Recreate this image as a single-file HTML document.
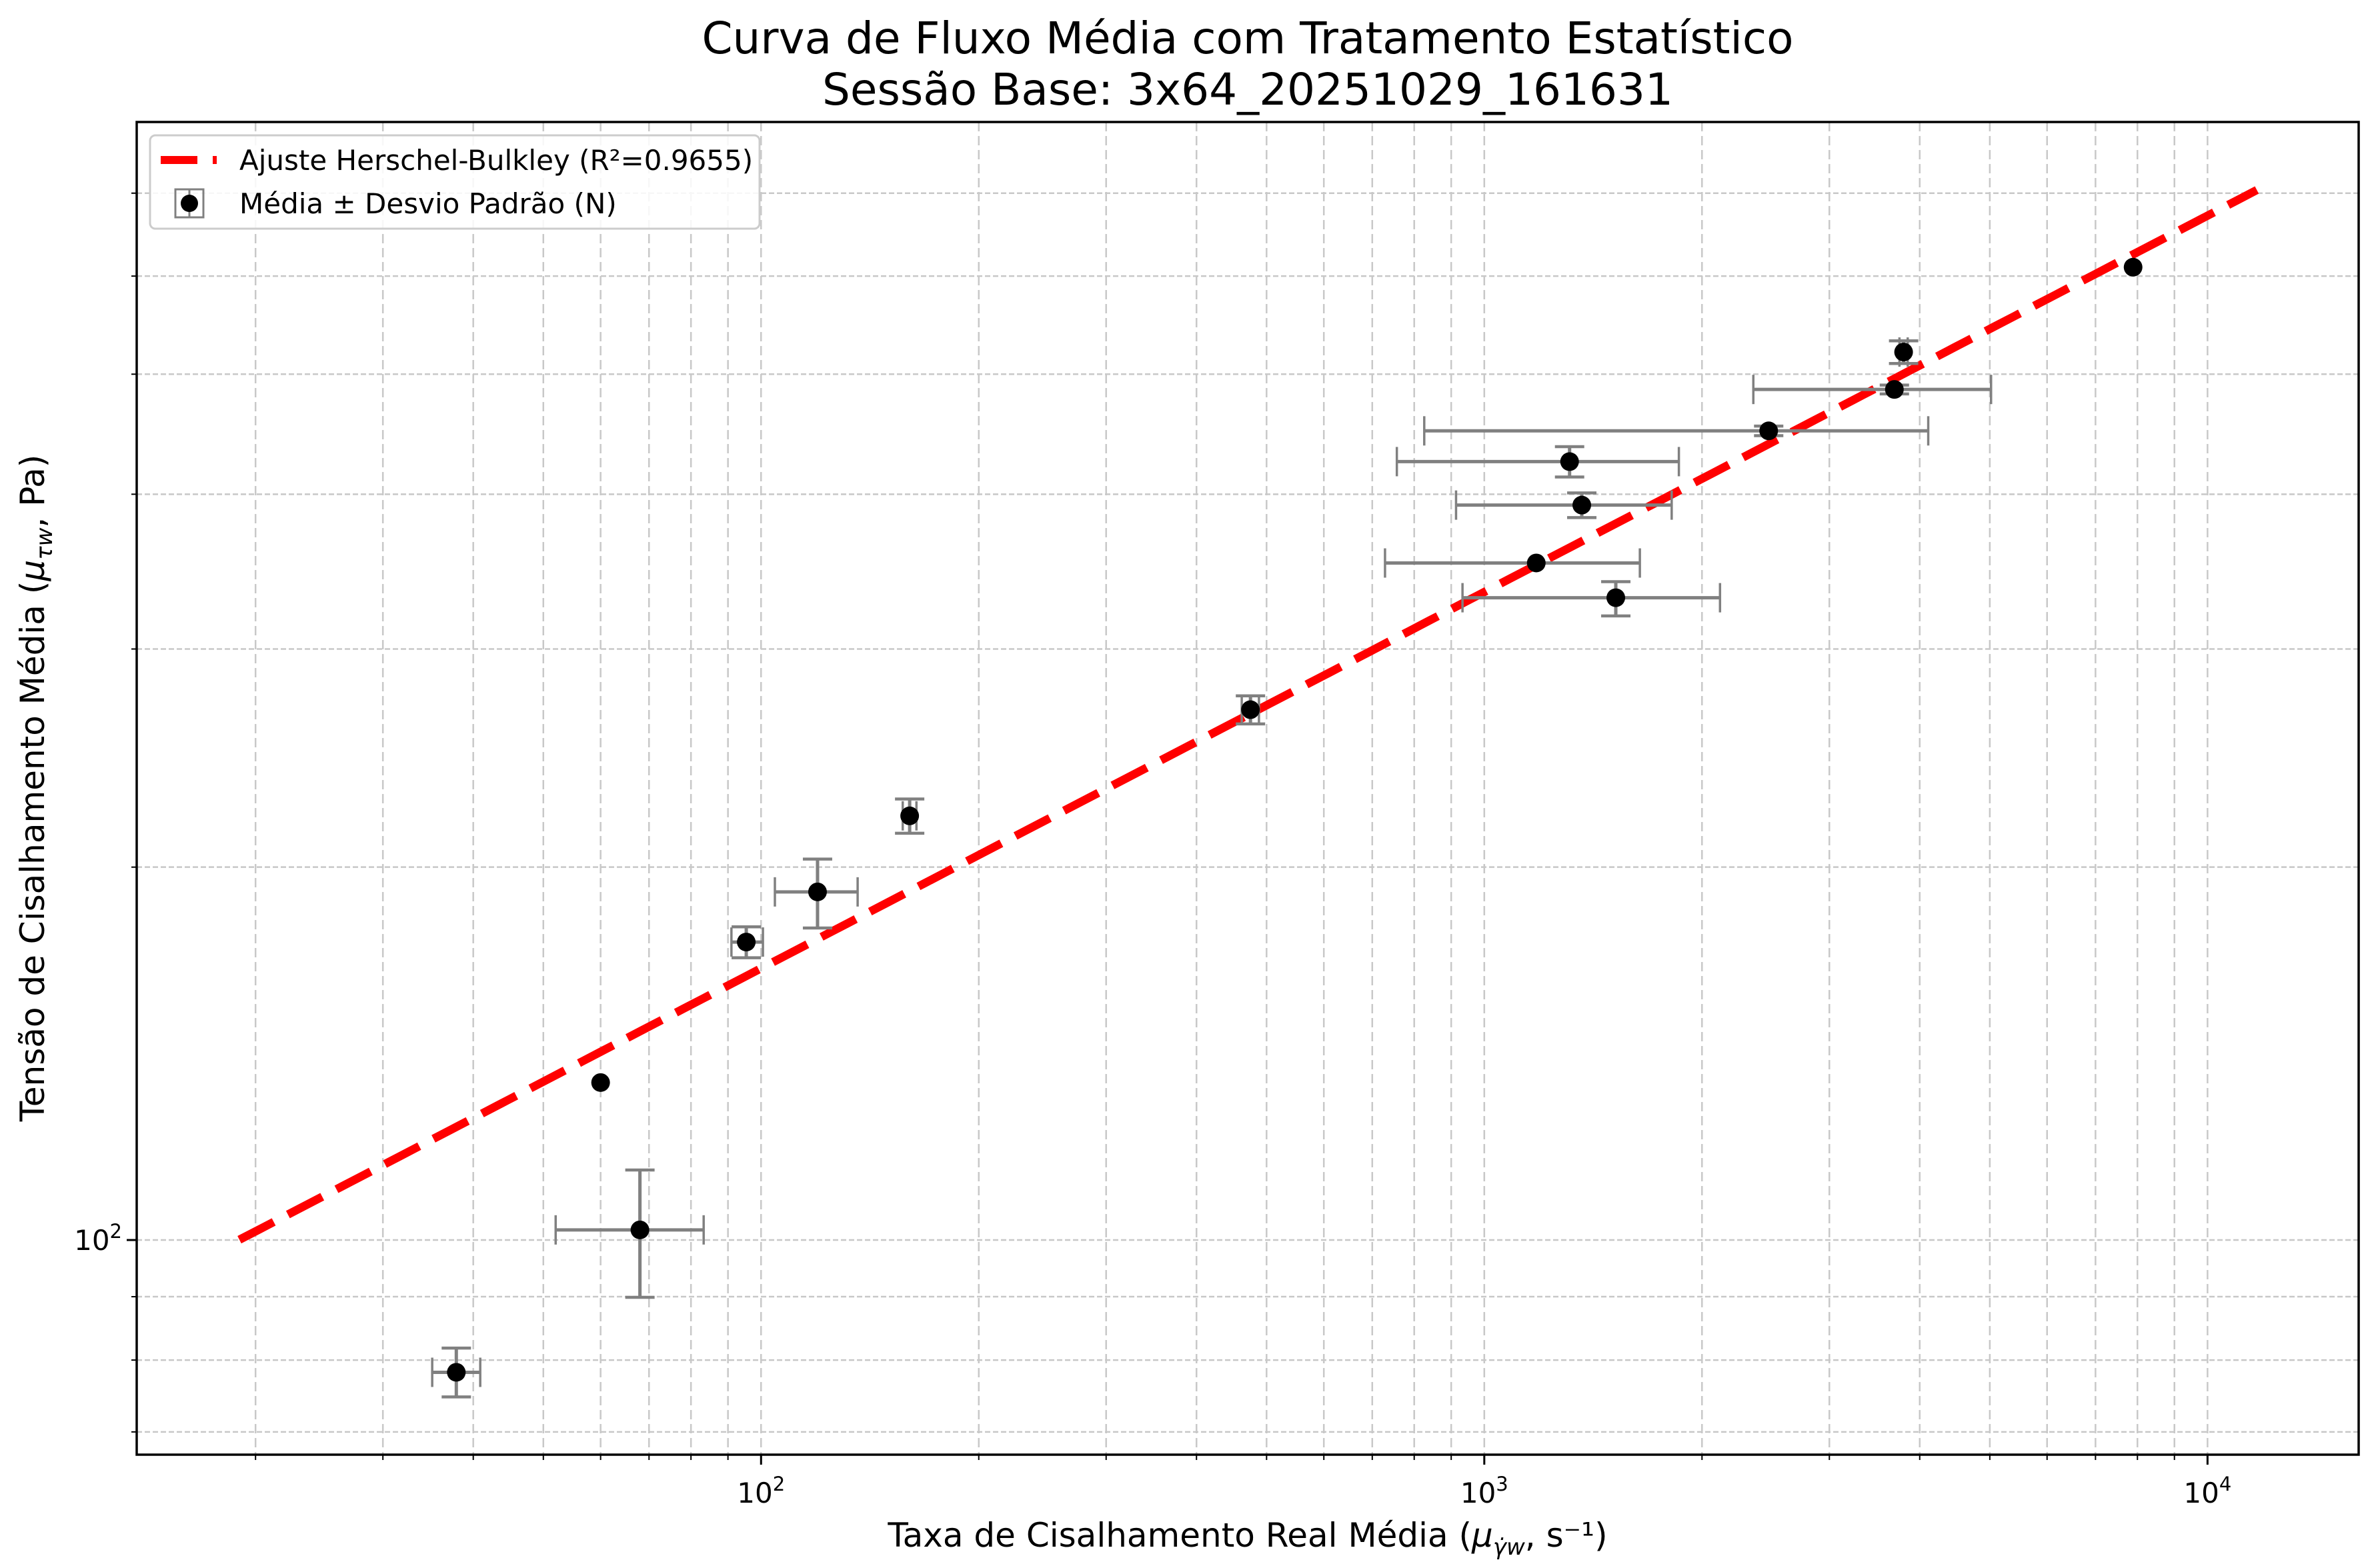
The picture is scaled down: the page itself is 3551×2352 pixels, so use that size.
<!DOCTYPE html>
<html><head><meta charset="utf-8"><style>
html,body{margin:0;padding:0;background:#fff;}
svg{display:block;font-family:"DejaVu Sans","Liberation Sans",sans-serif;}
</style></head><body>
<svg id="chart" width="3551" height="2352" viewBox="0 0 3551 2352" xmlns="http://www.w3.org/2000/svg">
<rect width="3551" height="2352" fill="#fff"/>
<g id="grid"></g>
<g id="fitg"></g>
<g id="errg"></g>
<g id="ptg"></g>
<rect x="205" y="183" width="3332" height="1999" fill="none" stroke="#000" stroke-width="3.5"/>
<g id="ticks"></g>
<text x="1871" y="80" text-anchor="middle" font-size="66">Curva de Fluxo Média com Tratamento Estatístico</text>
<text x="1871" y="157" text-anchor="middle" font-size="66">Sessão Base: 3x64_20251029_161631</text>
<text x="1871" y="2320" text-anchor="middle" font-size="50">Taxa de Cisalhamento Real Média (<tspan font-style="italic">μ</tspan><tspan font-size="34" dy="12" font-style="italic">γ̇w</tspan><tspan dy="-12">, s⁻¹)</tspan></text>
<text transform="translate(66,1182) rotate(-90)" text-anchor="middle" font-size="50">Tensão de Cisalhamento Média (<tspan font-style="italic">μ</tspan><tspan font-size="34" dy="12" font-style="italic">τw</tspan><tspan dy="-12">, Pa)</tspan></text>
<g>
<rect x="225" y="203" width="914" height="140" rx="8" fill="#fff" fill-opacity="0.85" stroke="#ccc" stroke-width="3"/>
<line x1="241" y1="240" x2="325" y2="240" stroke="#f00" stroke-width="12" stroke-dasharray="55,23"/>
<text x="359" y="255" font-size="42">Ajuste Herschel-Bulkley (R²=0.9655)</text>
<rect x="263" y="284" width="42" height="42" fill="none" stroke="#808080" stroke-width="3"/>
<line x1="284" y1="284" x2="284" y2="326" stroke="#808080" stroke-width="3"/>
<ellipse cx="284" cy="305" rx="13" ry="13" fill="#000"/>
<text x="359" y="320" font-size="42">Média ± Desvio Padrão (N)</text>
</g>
</svg>
<script>
const xMean=[37.9,68,60,95.4,119.7,160.5,475,1180,1520,1364,1312,2473,3690,3800,7890];
const yMean=[78.2,101.9,134,174,191,220,268,352,330,392,425,450,486,521,610];
const xLow=[35.1,52,60,91,104.5,157,462,729,933,914,757,826,2355,3750,7890];
const xHigh=[40.9,83.3,60,100.6,136,164,488,1641,2118,1816,1858,4110,5020,3850,7890];
const yLow=[74.7,89.9,134,169,178.6,213,261,352,319,383,413,446,482,510,610];
const yHigh=[81.8,113.9,134,179,203,227,275,352,340,401,437,454,490,532,610];
const fitK=[40.9];
const fitN=[0.3038];
const fitRange=[19,11700];
const xMajor=[100,1000,10000];
const xMajorLabels=["2","3","4"];
const yMajor=[100];
const yMajorLabels=["2"];

const NS="http://www.w3.org/2000/svg";
const L=205,R=3537,T=183,B=2182;
const xmin=Math.log10(13.7),xmax=Math.log10(16180);
const ymin=Math.log10(67.1),ymax=Math.log10(799);
function X(v){return L+(Math.log10(v)-xmin)/(xmax-xmin)*(R-L);}
function Y(v){return B-(Math.log10(v)-ymin)/(ymax-ymin)*(B-T);}
function mk(tag,attrs,parent){const e=document.createElementNS(NS,tag);for(const k in attrs)e.setAttribute(k,attrs[k]);parent.appendChild(e);return e;}
const grid=document.getElementById('grid'),ticks=document.getElementById('ticks');
const lo10=Math.pow(10,xmin),hi10=Math.pow(10,xmax);
for(let d=1;d<=4;d++){for(let m=1;m<10;m++){const v=m*Math.pow(10,d);if(v<lo10||v>hi10)continue;const x=X(v);
 const g=mk('line',{x1:x,x2:x,y1:T,y2:B,stroke:'#c8c8c8','stroke-width':2.5,'stroke-dasharray':'14,7'},grid);
 
 
 const t=mk('line',{x1:x,x2:x,y1:B,y2:B+(m==1?15:8),stroke:'#000','stroke-width':m==1?3:2},ticks);
 
 
}}
const ylo=Math.pow(10,ymin),yhi=Math.pow(10,ymax);
for(let d=1;d<=2;d++){for(let m=1;m<10;m++){const v=m*Math.pow(10,d);if(v<ylo||v>yhi)continue;const y=Y(v);
 const g=mk('line',{x1:L,x2:R,y1:y,y2:y,stroke:'#c8c8c8','stroke-width':2.5,'stroke-dasharray':'8,4'},grid);
 
 
 const t=mk('line',{x1:L,x2:L-(m==1?15:8),y1:y,y2:y,stroke:'#000','stroke-width':m==1?3:2},ticks);
 
 
}}
xMajor.forEach((v,i)=>{const t=mk('text',{x:X(v),y:B+72,'text-anchor':'middle','font-size':42},ticks);
 t.innerHTML='10<tspan dy="-18" font-size="29">'+xMajorLabels[i]+'</tspan>';
 
 });
yMajor.forEach((v,i)=>{const t=mk('text',{x:L-22,y:Y(v)+15,'text-anchor':'end','font-size':42},ticks);
 t.innerHTML='10<tspan dy="-18" font-size="29">'+yMajorLabels[i]+'</tspan>';
 
 });
const fitg=document.getElementById('fitg');let pts=[];
for(let i=0;i<=100;i++){const lx=Math.log10(fitRange[0])+i/100*(Math.log10(fitRange[1])-Math.log10(fitRange[0]));const xv=Math.pow(10,lx);const yv=fitK[0]*Math.pow(xv,fitN[0]);pts.push(X(xv).toFixed(1)+','+Y(yv).toFixed(1));}
const fl=mk('polyline',{points:pts.join(' '),fill:'none',stroke:'#f00','stroke-width':12.5,'stroke-dasharray':'58,24'},fitg);


const errg=document.getElementById('errg'),ptg=document.getElementById('ptg');
xMean.forEach((xv,i)=>{const cx=X(xv),cy=Y(yMean[i]);
 const s={stroke:'#808080','stroke-width':5};
 if(xHigh[i]>xLow[i]){
  const h=mk('line',Object.assign({x1:X(xLow[i]),x2:X(xHigh[i]),y1:cy,y2:cy},s),errg);
  
  
  [xLow[i],xHigh[i]].forEach(v=>{const c=mk('line',Object.assign({x1:X(v),x2:X(v),y1:cy-22,y2:cy+22},s,{'stroke-width':3.5}),errg);
   
   });
 }
 if(yHigh[i]>yLow[i]){
  const v=mk('line',Object.assign({x1:cx,x2:cx,y1:Y(yLow[i]),y2:Y(yHigh[i])},s),errg);
  
  
  [yLow[i],yHigh[i]].forEach(w=>{const c=mk('line',Object.assign({x1:cx-22,x2:cx+22,y1:Y(w),y2:Y(w)},s,{'stroke-width':4.5}),errg);
   
   });
 }
 const p=mk('circle',{cx:cx,cy:cy,r:14,fill:'#000'},ptg);
 
 
});
</script>
</body></html>
